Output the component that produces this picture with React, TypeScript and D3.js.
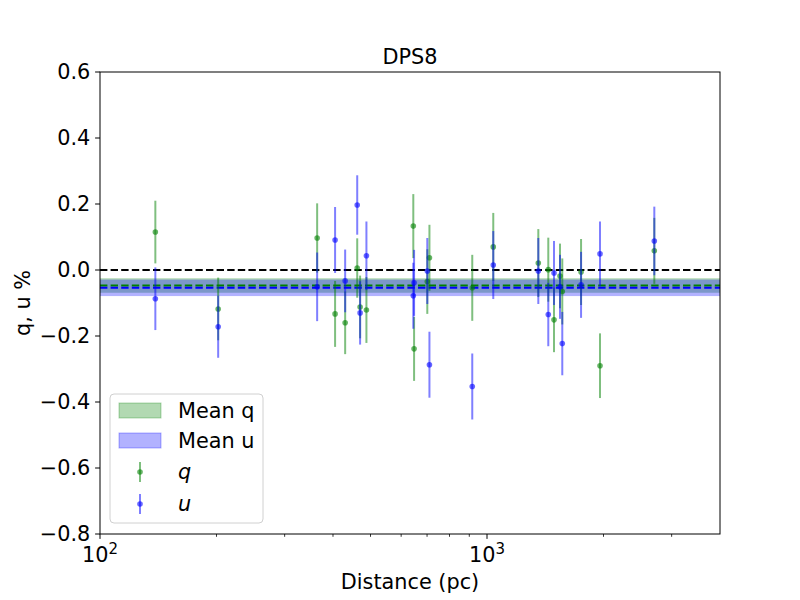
import * as React from 'react';
import * as d3 from 'd3';

// distance of each star (pc) with q and u values and their errors (%)
const distances = [139, 202, 364, 405, 430, 462, 470, 488, 645, 648, 701, 710, 916, 1038, 1357, 1440, 1490, 1544, 1565, 1750, 1959, 2706];
const qValues = [0.115, -0.118, 0.097, -0.133, -0.160, 0.006, -0.112, -0.121, 0.133, -0.239, -0.035, 0.037, -0.054, 0.070, 0.021, 0.001, -0.151, -0.018, -0.065, -0.006, -0.290, 0.058];
const uValues = [-0.087, -0.172, -0.051, 0.091, -0.033, 0.197, -0.130, 0.043, -0.078, -0.039, -0.003, -0.287, -0.353, 0.015, -0.003, -0.135, -0.009, -0.051, -0.223, -0.045, 0.049, 0.088];
const qErrors = [0.095, 0.095, 0.105, 0.1, 0.095, 0.09, 0.095, 0.1, 0.097, 0.097, 0.098, 0.1, 0.1, 0.103, 0.103, 0.097, 0.098, 0.098, 0.1, 0.1, 0.098, 0.1];
const uErrors = [0.095, 0.094, 0.104, 0.1, 0.095, 0.09, 0.096, 0.104, 0.1, 0.1, 0.1, 0.1, 0.1, 0.103, 0.1, 0.096, 0.097, 0.097, 0.096, 0.1, 0.098, 0.104];

const meanQ = -0.047;
const meanQErr = 0.022;
const meanU = -0.054;
const meanUErr = 0.025;

const yTicks = [-0.8, -0.6, -0.4, -0.2, 0.0, 0.2, 0.4, 0.6];
const xMajorTicks = [100, 1000];
const xMinorTicks = [200, 300, 400, 500, 600, 700, 800, 900, 2000, 3000];

const margins = {left: 100, right: 80, top: 72, bottom: 66};
const width = 800;
const height = 600;
const font = 'DejaVu Sans, sans-serif';
const fs = 20.8;

const GREEN = '#008000';
const BLUE = '#0000ff';

function ErrorSeries(props: {x: any; y: any; values: number[]; errors: number[]; color: string}) {
    const {x, y, values, errors, color} = props;
    return (
        <g>
            {values.map((v, i) => (
                <line key={'e' + i} x1={x(distances[i])} x2={x(distances[i])}
                      y1={y(v - errors[i])} y2={y(v + errors[i])}
                      stroke={color} strokeOpacity={0.5} strokeWidth={2}/>
            ))}
            {values.map((v, i) => (
                <circle key={'m' + i} cx={x(distances[i])} cy={y(v)} r={2.8}
                        fill={color} fillOpacity={0.6}/>
            ))}
        </g>
    );
}

export default function App() {
    const x = d3.scaleLog().domain([100, 4000]).range([margins.left, width - margins.right]);
    const y = d3.scaleLinear().domain([-0.8, 0.6]).range([height - margins.bottom, margins.top]);
    const x0 = margins.left;
    const x1 = width - margins.right;
    const y0 = height - margins.bottom;
    const yTop = margins.top;
    const dash = '7.4 3.2';

    const legendX = 110;
    const legendY = 394;

    return (
        <svg width={width} height={height} style={{position: 'absolute', left: 0, top: 0, background: '#fff'}}
             fontFamily={font}>
            <rect width={width} height={height} fill="#fff"/>
            <clipPath id="plot">
                <rect x={x0} y={yTop} width={x1 - x0} height={y0 - yTop}/>
            </clipPath>
            <g clipPath="url(#plot)">
                <rect x={x0} width={x1 - x0} y={y(meanQ + meanQErr)} height={y(meanQ - meanQErr) - y(meanQ + meanQErr)}
                      fill={GREEN} fillOpacity={0.3}/>
                <rect x={x0} width={x1 - x0} y={y(meanU + meanUErr)} height={y(meanU - meanUErr) - y(meanU + meanUErr)}
                      fill={BLUE} fillOpacity={0.3}/>
                <line x1={x0} x2={x1} y1={y(0)} y2={y(0)} stroke="#000" strokeWidth={2} strokeDasharray={dash}/>
                <line x1={x0} x2={x1} y1={y(meanQ)} y2={y(meanQ)} stroke={GREEN} strokeWidth={2} strokeDasharray={dash}/>
                <line x1={x0} x2={x1} y1={y(meanU)} y2={y(meanU)} stroke={BLUE} strokeWidth={2} strokeDasharray={dash}/>
                <ErrorSeries x={x} y={y} values={qValues} errors={qErrors} color={GREEN}/>
                <ErrorSeries x={x} y={y} values={uValues} errors={uErrors} color={BLUE}/>
            </g>

            {/* frame */}
            <rect x={x0} y={yTop} width={x1 - x0} height={y0 - yTop} fill="none" stroke="#000" strokeWidth={1}/>

            {/* y axis */}
            {yTicks.map((t) => (
                <g key={'y' + t}>
                    <line x1={x0 - 4.9} x2={x0} y1={y(t)} y2={y(t)} stroke="#000"/>
                    <text x={x0 - 9.7} y={y(t)} dy="0.35em" textAnchor="end" fontSize={fs}>
                        {d3.format('.1f')(t).replace('-', '\u2212')}
                    </text>
                </g>
            ))}

            {/* x axis */}
            {xMajorTicks.map((t) => (
                <g key={'x' + t}>
                    <line x1={x(t)} x2={x(t)} y1={y0} y2={y0 + 4.9} stroke="#000"/>
                    <text x={x(t)} y={y0 + 28} textAnchor="middle" fontSize={fs}>
                        10<tspan dy="-8" fontSize={15}>{Math.round(Math.log10(t))}</tspan>
                    </text>
                </g>
            ))}
            {xMinorTicks.map((t) => (
                <line key={'m' + t} x1={x(t)} x2={x(t)} y1={y0} y2={y0 + 2.8} stroke="#000" strokeWidth={0.8}/>
            ))}

            <text x={(x0 + x1) / 2} y={589} textAnchor="middle" fontSize={fs}>Distance (pc)</text>
            <text transform={`translate(30 ${(y0 + yTop) / 2}) rotate(-90)`} textAnchor="middle" fontSize={fs}>q, u %</text>
            <text x={(x0 + x1) / 2} y={64} textAnchor="middle" fontSize={fs}>DPS8</text>

            {/* legend */}
            <g>
                <rect x={legendX} y={legendY} width={153} height={129} rx={4} fill="#fff" fillOpacity={0.8}
                      stroke="#d0d0d0"/>
                <rect x={119} y={403} width={42} height={15} fill={GREEN} fillOpacity={0.3} stroke={GREEN}
                      strokeOpacity={0.3}/>
                <text x={178} y={418} fontSize={fs}>Mean q</text>
                <rect x={119} y={433} width={42} height={15} fill={BLUE} fillOpacity={0.3} stroke={BLUE}
                      strokeOpacity={0.3}/>
                <text x={178} y={448} fontSize={fs}>Mean u</text>
                <line x1={140} x2={140} y1={462} y2={482} stroke={GREEN} strokeOpacity={0.5} strokeWidth={2}/>
                <circle cx={140} cy={472} r={2.8} fill={GREEN} fillOpacity={0.6}/>
                <text x={178} y={479} fontSize={fs} fontStyle="italic">q</text>
                <line x1={140} x2={140} y1={494} y2={514} stroke={BLUE} strokeOpacity={0.5} strokeWidth={2}/>
                <circle cx={140} cy={504} r={2.8} fill={BLUE} fillOpacity={0.6}/>
                <text x={178} y={511} fontSize={fs} fontStyle="italic">u</text>
            </g>
        </svg>
    );
}
